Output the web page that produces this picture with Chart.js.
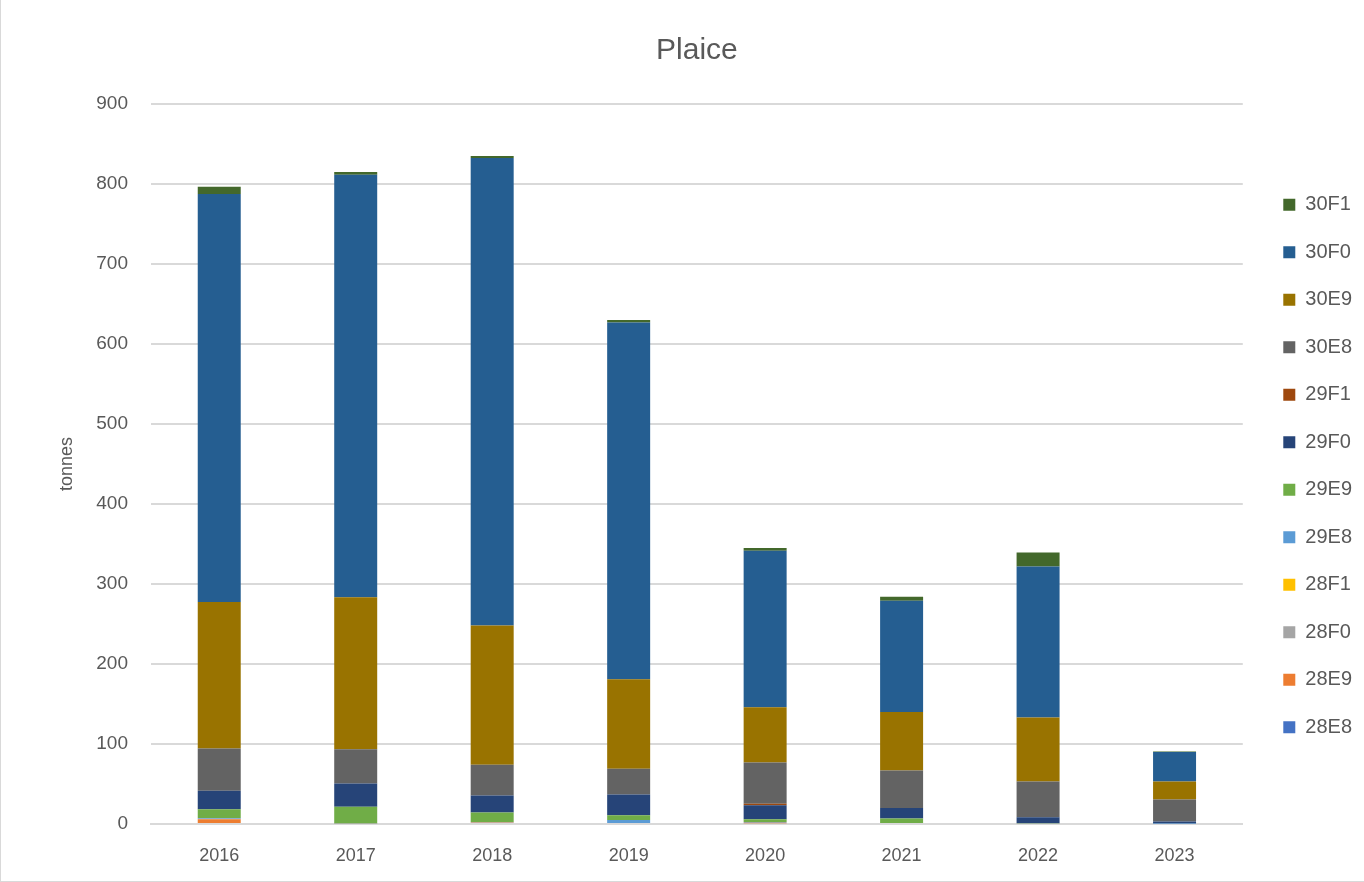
<!DOCTYPE html>
<html>
<head>
<meta charset="utf-8">
<script src="https://cdn.jsdelivr.net/npm/chart.js@4"></script>
<style>
  html, body { margin: 0; padding: 0; background: #fff; }
  #wrap { position: relative; width: 1364px; height: 882px; box-sizing: border-box; border-left: 1px solid #d9d9d9; border-bottom: 1px solid #d9d9d9; }
  #myChart { display: block; }
</style>
</head>
<body>
<div id="wrap"><canvas id="myChart"></canvas></div>
<script>
'use strict'

const years = ['2016', '2017', '2018', '2019', '2020', '2021', '2022', '2023'];

// tonnes per ICES rectangle
const r28E8 = [0, 0, 0, 0, 0, 0, 0, 0];
const r28E9 = [6, 0, 1.5, 0, 1, 0, 0, 0];
const r28F0 = [0.5, 0.5, 1, 0, 1.5, 0, 0, 0];
const r28F1 = [0, 0, 0, 0, 0, 0, 0, 0];
const r29E8 = [1, 0, 0, 5, 0, 0, 0, 0.5];
const r29E9 = [11, 21, 12, 6, 3.3, 7, 1, 0];
const r29F0 = [23, 29, 21, 26, 17.6, 13, 7.5, 2.5];
const r29F1 = [0, 0, 0, 0, 2, 0, 0, 0];
const r30E8 = [53, 43, 38.5, 32, 51.6, 47, 44.5, 27.5];
const r30E9 = [183, 190, 174, 112, 69, 73, 80, 22.5];
const r30F0 = [510, 528, 584.5, 446, 195.7, 139, 189, 37];
const r30F1 = [9, 3.5, 2.5, 3, 3.3, 5, 17.5, 0.5];

const yTicks = [0, 100, 200, 300, 400, 500, 600, 700, 800, 900];

const series = [
  ['28E8', r28E8, '#4472C4'],
  ['28E9', r28E9, '#ED7D31'],
  ['28F0', r28F0, '#A5A5A5'],
  ['28F1', r28F1, '#FFC000'],
  ['29E8', r29E8, '#5B9BD5'],
  ['29E9', r29E9, '#70AD47'],
  ['29F0', r29F0, '#264478'],
  ['29F1', r29F1, '#9E480E'],
  ['30E8', r30E8, '#636363'],
  ['30E9', r30E9, '#997300'],
  ['30F0', r30F0, '#255E91'],
  ['30F1', r30F1, '#43682B'],
];

const textColour = '#595959';
const fontFamily = '"Liberation Sans", Arial, sans-serif';

Chart.defaults.font.family = fontFamily;
Chart.defaults.color = textColour;

// nudge the legend a little right and down of where Chart.js puts it
const legendShift = {
  id: 'legendShift',
  afterLayout(chart) {
    chart.legend.left += 13;
    chart.legend.right += 13;
    chart.legend.top += 2;
    chart.legend.bottom += 2;
  },
};

const data = {
  labels: years,
  datasets: series.map(([name, values, colour]) => ({
    label: name,
    data: values,
    backgroundColor: colour,
    borderWidth: 0,
    barPercentage: 0.315,
    categoryPercentage: 1,
  })),
};

const config = {
  type: 'bar',
  data: data,
  plugins: [legendShift],
  options: {
    responsive: false,
    maintainAspectRatio: false,
    animation: false,
    layout: { padding: { top: 0, right: 15, bottom: 0, left: 0 } },
    plugins: {
      title: {
        display: true,
        fullSize: false,
        text: 'Plaice',
        color: textColour,
        font: { size: 30, weight: 'normal' },
        padding: { top: 33, bottom: 35 },
      },
      legend: {
        position: 'right',
        fullSize: false,
        reverse: true,
        labels: {
          boxWidth: 12,
          boxHeight: 12,
          padding: 27.5,
          color: textColour,
          font: { size: 20 },
        },
      },
      tooltip: { enabled: false },
    },
    scales: {
      x: {
        stacked: true,
        afterFit: (axis) => { axis.height = 57; },
        grid: { display: false, drawTicks: false },
        border: { display: true, color: '#d9d9d9', width: 2 },
        ticks: { padding: 21, font: { size: 18 }, color: textColour },
      },
      y: {
        stacked: true,
        min: 0,
        max: 900,
        afterBuildTicks: (axis) => { axis.ticks = yTicks.map(v => ({ value: v })); },
        afterFit: (axis) => { axis.width = 150; },
        grid: { color: '#d9d9d9', lineWidth: 2, drawTicks: false },
        border: { display: false },
        ticks: { padding: 23, font: { size: 19 }, color: textColour },
        title: {
          display: true,
          text: 'tonnes',
          color: textColour,
          font: { size: 18 },
          padding: { top: 55, bottom: 0 },
        },
      },
    },
  },
};

const canvas = document.getElementById('myChart');
canvas.width = 1363;
canvas.height = 881;
canvas.style.width = '1363px';
canvas.style.height = '881px';
const myChart = new Chart(canvas, config);
</script>
</body>
</html>
